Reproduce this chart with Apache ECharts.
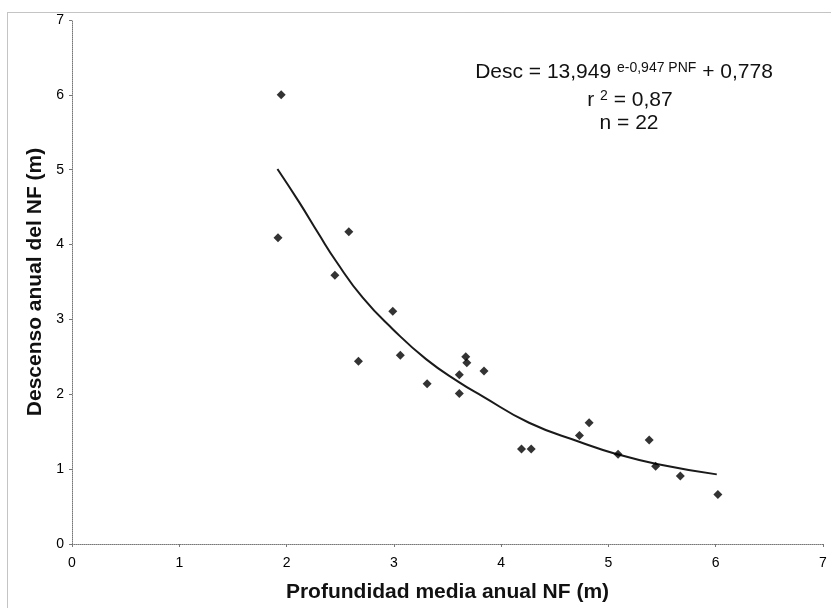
<!DOCTYPE html>
<html>
<head>
<meta charset="utf-8">
<script src="https://cdn.jsdelivr.net/npm/echarts@6/dist/echarts.min.js"></script>
<style>html,body{margin:0;padding:0;background:#fff;}#c{width:831px;height:608px;}</style>
</head>
<body>
<div id="c"></div>
<script>
// Observed points: [Profundidad media anual NF (m), Descenso anual del NF (m)]
var depthX = [1.95, 1.92, 2.58, 2.45, 2.99, 2.67, 3.06, 3.67, 3.68, 3.84, 3.61, 3.31, 3.61, 4.19, 4.28, 4.73, 4.82, 5.38, 5.09, 5.44, 5.67, 6.02];
var descY  = [6.00, 4.09, 4.17, 3.59, 3.11, 2.44, 2.52, 2.50, 2.42, 2.31, 2.26, 2.14, 2.01, 1.27, 1.27, 1.45, 1.62, 1.39, 1.20, 1.04, 0.91, 0.66];
// Fitted curve
var fitX = [1.915, 2.12, 2.30, 2.46, 2.71, 2.99, 3.30, 3.61, 3.82, 4.26, 4.74, 5.08, 5.45, 6.01];
var fitY = [5.01, 4.56, 4.14, 3.78, 3.29, 2.87, 2.47, 2.16, 1.98, 1.62, 1.36, 1.20, 1.07, 0.93];
var xTicks = [0, 1, 2, 3, 4, 5, 6, 7];
var yTicks = [0, 1, 2, 3, 4, 5, 6, 7];

var pts = depthX.map(function (x, i) { return [x, descY[i]]; });
var fit = fitX.map(function (x, i) { return [x, fitY[i]]; });

var chart = echarts.init(document.getElementById('c'));
var FONT = '"Liberation Sans", Arial, sans-serif';
var axisLine = { show: true, lineStyle: { color: '#777', type: [1, 1], width: 1 } };
chart.setOption({
  animation: false,
  backgroundColor: '#fff',
  grid: { left: 72, right: 8, top: 20, bottom: 64 },
  xAxis: {
    type: 'value', min: xTicks[0], max: xTicks[xTicks.length - 1], interval: 1,
    axisLine: axisLine,
    axisTick: { show: true, length: 3, lineStyle: { color: '#777' } },
    splitLine: { show: false },
    axisLabel: { color: '#000', fontFamily: FONT, fontSize: 14, margin: 12 },
    name: 'Profundidad media anual NF (m)', nameLocation: 'middle', nameGap: 38,
    nameTextStyle: { color: '#111', fontFamily: FONT, fontSize: 21, fontWeight: 'bold' }
  },
  yAxis: {
    type: 'value', min: yTicks[0], max: yTicks[yTicks.length - 1], interval: 1,
    axisLine: axisLine,
    axisTick: { show: true, length: 3, lineStyle: { color: '#777' } },
    splitLine: { show: false },
    axisLabel: { color: '#000', fontFamily: FONT, fontSize: 14, margin: 8 },
    name: 'Descenso anual del NF (m)', nameLocation: 'middle', nameGap: 24,
    nameTextStyle: { color: '#111', fontFamily: FONT, fontSize: 21, fontWeight: 'bold' }
  },
  series: [
    {
      type: 'line', data: fit, smooth: true, symbol: 'none', z: 2,
      lineStyle: { color: '#1a1a1a', width: 2 }
    },
    {
      type: 'scatter', data: pts, symbol: 'diamond', symbolSize: 9, z: 3,
      itemStyle: { color: '#000' }
    }
  ],
  graphic: [
    {
      type: 'rect', silent: true, z: 0,
      shape: { x: 7.5, y: 12.5, width: 900, height: 700 },
      style: { fill: 'none', stroke: '#888', lineWidth: 1, lineDash: [1, 1] }
    },
    {
      type: 'text', z: 10,
      style: {
        text: '{b|Desc = 13,949 }{s|e-0,947 PNF}{b| + 0,778}',
        x: 624, y: 72, align: 'center', verticalAlign: 'middle',
        rich: {
          b: { fontFamily: FONT, fontSize: 21, fill: '#111', verticalAlign: 'bottom' },
          s: { fontFamily: FONT, fontSize: 14, fill: '#111', padding: [0, 0, 8, 0], verticalAlign: 'bottom' }
        }
      }
    },
    {
      type: 'text', z: 10,
      style: {
        text: '{b|r }{s|2}{b| = 0,87}', x: 630, y: 100, align: 'center', verticalAlign: 'middle',
        rich: {
          b: { fontFamily: FONT, fontSize: 21, fill: '#111', verticalAlign: 'bottom' },
          s: { fontFamily: FONT, fontSize: 14, fill: '#111', padding: [0, 0, 8, 0], verticalAlign: 'bottom' }
        }
      }
    },
    {
      type: 'text', z: 10,
      style: {
        text: 'n = 22', x: 629, y: 123, align: 'center', verticalAlign: 'middle',
        fontFamily: FONT, fontSize: 21, fill: '#111'
      }
    }
  ]
});
</script>
</body>
</html>
